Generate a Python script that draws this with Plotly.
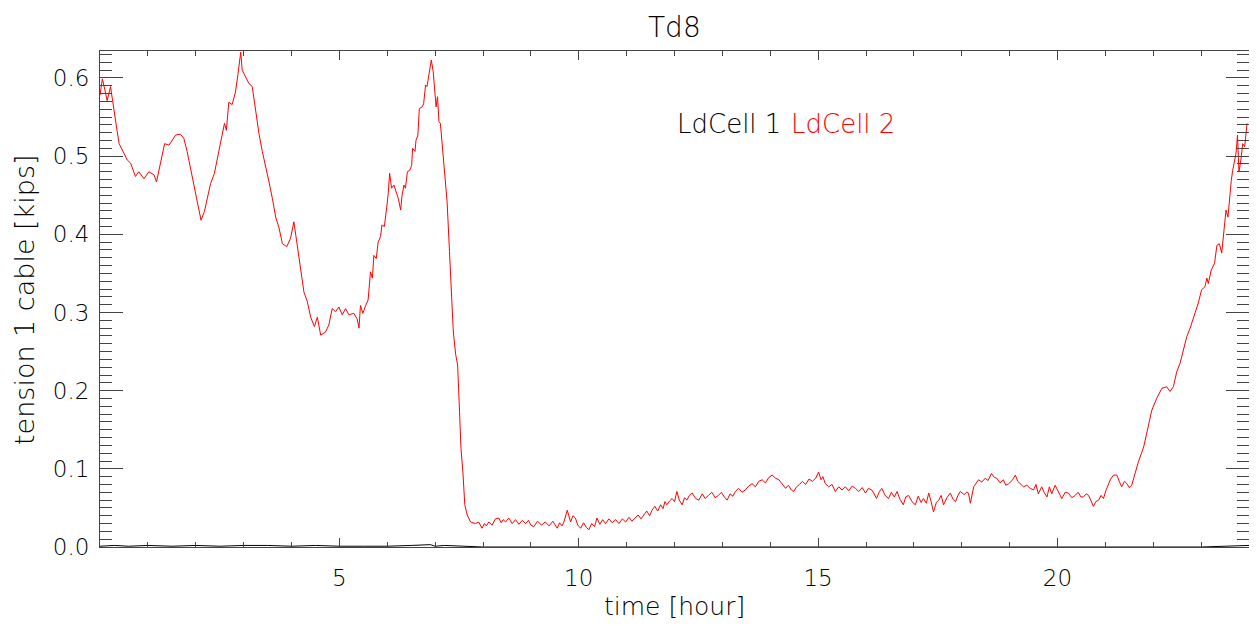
import plotly.graph_objects as go

# ---- data ----
t_ld2 = [0.00, 0.05, 0.10, 0.13, 0.15, 0.22, 0.29, 0.36, 0.40, 0.50, 0.57, 0.64, 0.74, 0.81, 0.92,
         1.02, 1.13, 1.18, 1.27, 1.35, 1.44, 1.51, 1.58, 1.68, 1.75, 1.82, 1.89, 1.96,
         2.03, 2.11, 2.18, 2.24, 2.31, 2.39, 2.46, 2.53, 2.60, 2.64, 2.69, 2.76, 2.83, 2.88, 2.94, 2.97,
         3.04, 3.11, 3.18, 3.25, 3.32, 3.39, 3.46, 3.53, 3.60, 3.67, 3.74, 3.81, 3.90, 3.98,
         4.05, 4.12, 4.19, 4.26, 4.33, 4.40, 4.48, 4.54, 4.61, 4.71, 4.78, 4.85, 4.92, 4.99,
         5.06, 5.13, 5.20, 5.30, 5.37, 5.41, 5.44, 5.49, 5.55, 5.60, 5.65, 5.69, 5.72, 5.77, 5.81, 5.86, 5.89, 5.94, 5.99,
         6.02, 6.05, 6.09, 6.14, 6.19, 6.23, 6.28, 6.31, 6.35, 6.38, 6.42, 6.47, 6.51, 6.53, 6.58, 6.60, 6.64, 6.67,
         6.73, 6.76, 6.80, 6.83, 6.87, 6.90, 6.92, 6.96, 6.99,
         7.02, 7.05, 7.08, 7.11, 7.18, 7.25, 7.30, 7.33, 7.38, 7.43, 7.47, 7.51, 7.54, 7.58, 7.62, 7.67, 7.74, 7.84, 7.91,
         7.98, 8.03, 8.07, 8.12, 8.19, 8.26, 8.33, 8.38, 8.42, 8.47, 8.54, 8.61, 8.68, 8.75, 8.82, 8.89, 8.95, 9.00,
         9.06, 9.14, 9.22, 9.30, 9.38, 9.46, 9.55, 9.60, 9.65, 9.69, 9.76, 9.80, 9.83, 9.88, 9.93, 9.98,
         10.04, 10.10, 10.16, 10.21, 10.27, 10.33, 10.38, 10.44, 10.50, 10.56, 10.63, 10.70, 10.77, 10.84, 10.91, 10.98,
         11.05, 11.11, 11.18, 11.24, 11.30, 11.36, 11.42, 11.48, 11.53, 11.59, 11.65, 11.71, 11.76, 11.80, 11.84, 11.90, 11.95,
         12.00, 12.05, 12.10, 12.16, 12.21, 12.26, 12.31, 12.37, 12.44, 12.51, 12.58, 12.64, 12.71, 12.78, 12.85, 12.92, 12.98,
         13.04, 13.10, 13.16, 13.22, 13.27, 13.34, 13.41, 13.48, 13.55, 13.62, 13.69, 13.76, 13.83, 13.90, 13.97,
         14.04, 14.11, 14.18, 14.25, 14.32, 14.38, 14.44, 14.49, 14.55, 14.61, 14.67, 14.74, 14.81, 14.88, 14.95,
         15.01, 15.06, 15.10, 15.15, 15.22, 15.29, 15.36, 15.43, 15.50, 15.57, 15.64, 15.71, 15.78, 15.85, 15.92, 15.99,
         16.05, 16.12, 16.17, 16.22, 16.28, 16.33, 16.40, 16.47, 16.53, 16.59, 16.65, 16.71, 16.78, 16.83, 16.89, 16.96,
         17.03, 17.09, 17.15, 17.20, 17.26, 17.31, 17.36, 17.41, 17.47, 17.52, 17.57, 17.62, 17.69, 17.76, 17.82, 17.87, 17.92, 17.97,
         18.05, 18.10, 18.14, 18.18, 18.25, 18.30, 18.35, 18.42, 18.49, 18.55, 18.62, 18.68, 18.73, 18.80, 18.87, 18.92, 18.98,
         19.05, 19.12, 19.17, 19.22, 19.29, 19.36, 19.43, 19.50, 19.55, 19.60, 19.67, 19.72, 19.78, 19.83, 19.88, 19.95,
         20.02, 20.09, 20.16, 20.23, 20.30, 20.37, 20.43, 20.49, 20.54, 20.60, 20.65, 20.70, 20.75, 20.80, 20.86, 20.91, 20.96,
         21.01, 21.06, 21.11, 21.17, 21.24, 21.29, 21.34, 21.40, 21.45, 21.50, 21.55, 21.62, 21.69,
         21.80, 21.90, 21.97, 22.07, 22.18, 22.28, 22.35, 22.42, 22.49, 22.56, 22.63, 22.70, 22.77, 22.87, 22.94,
         23.01, 23.08, 23.12, 23.15, 23.21, 23.28, 23.33, 23.38, 23.43, 23.47, 23.52, 23.56, 23.59, 23.63, 23.66,
         23.70, 23.73, 23.76, 23.79, 23.83, 23.87, 23.91, 23.93, 23.96]
v_ld2 = [0.578, 0.599, 0.585, 0.578, 0.571, 0.589, 0.557, 0.531, 0.516, 0.503, 0.495, 0.491, 0.474, 0.480, 0.471,
         0.480, 0.476, 0.467, 0.495, 0.516, 0.514, 0.520, 0.527, 0.528, 0.523, 0.506, 0.484, 0.463,
         0.440, 0.418, 0.429, 0.446, 0.465, 0.478, 0.501, 0.520, 0.542, 0.533, 0.569, 0.566, 0.582, 0.604, 0.633, 0.610,
         0.601, 0.593, 0.589, 0.557, 0.529, 0.506, 0.488, 0.467, 0.446, 0.422, 0.408, 0.388, 0.384, 0.395,
         0.416, 0.386, 0.352, 0.326, 0.314, 0.294, 0.282, 0.294, 0.271, 0.275, 0.284, 0.305, 0.301, 0.307,
         0.297, 0.305, 0.297, 0.299, 0.292, 0.280, 0.309, 0.299, 0.309, 0.316, 0.352, 0.344, 0.373, 0.369, 0.390, 0.397, 0.412, 0.410, 0.435,
         0.452, 0.478, 0.459, 0.463, 0.452, 0.446, 0.431, 0.450, 0.463, 0.459, 0.480, 0.482, 0.488, 0.510, 0.506, 0.520, 0.527, 0.561,
         0.563, 0.567, 0.591, 0.589, 0.604, 0.616, 0.623, 0.608, 0.578,
         0.563, 0.576, 0.544, 0.542, 0.493, 0.442, 0.378, 0.344, 0.275, 0.246, 0.233, 0.173, 0.126, 0.096, 0.054, 0.041, 0.032, 0.030, 0.032,
         0.024, 0.030, 0.027, 0.032, 0.028, 0.036, 0.037, 0.031, 0.035, 0.032, 0.037, 0.030, 0.035, 0.029, 0.034, 0.030, 0.034, 0.028,
         0.026, 0.033, 0.028, 0.032, 0.027, 0.033, 0.024, 0.031, 0.027, 0.032, 0.047, 0.036, 0.032, 0.040, 0.037, 0.028,
         0.024, 0.031, 0.025, 0.022, 0.030, 0.026, 0.037, 0.029, 0.035, 0.030, 0.036, 0.031, 0.035, 0.030, 0.036, 0.032,
         0.038, 0.033, 0.037, 0.041, 0.036, 0.041, 0.046, 0.040, 0.047, 0.052, 0.046, 0.054, 0.049, 0.058, 0.054, 0.059, 0.062,
         0.058, 0.071, 0.060, 0.054, 0.063, 0.060, 0.066, 0.069, 0.062, 0.060, 0.068, 0.062, 0.066, 0.070, 0.063, 0.066, 0.070,
         0.064, 0.060, 0.068, 0.065, 0.071, 0.075, 0.070, 0.073, 0.078, 0.081, 0.077, 0.084, 0.086, 0.082, 0.089,
         0.092, 0.088, 0.086, 0.080, 0.075, 0.079, 0.073, 0.071, 0.077, 0.080, 0.084, 0.080, 0.087, 0.084, 0.088,
         0.096, 0.086, 0.090, 0.081, 0.077, 0.080, 0.071, 0.077, 0.073, 0.077, 0.072, 0.078, 0.075, 0.071, 0.076, 0.069,
         0.075, 0.073, 0.068, 0.062, 0.071, 0.075, 0.066, 0.062, 0.070, 0.064, 0.071, 0.061, 0.054, 0.064, 0.066, 0.058,
         0.054, 0.065, 0.057, 0.062, 0.056, 0.069, 0.058, 0.045, 0.057, 0.060, 0.066, 0.054, 0.063, 0.069, 0.061, 0.058, 0.066, 0.071,
         0.067, 0.070, 0.069, 0.056, 0.077, 0.082, 0.086, 0.083, 0.088, 0.085, 0.094, 0.089, 0.088, 0.082, 0.086, 0.079, 0.081,
         0.085, 0.092, 0.084, 0.081, 0.077, 0.079, 0.075, 0.073, 0.080, 0.068, 0.077, 0.070, 0.064, 0.077, 0.068, 0.079,
         0.070, 0.062, 0.070, 0.069, 0.063, 0.066, 0.070, 0.064, 0.064, 0.068, 0.066, 0.060, 0.052, 0.058, 0.060, 0.066, 0.062,
         0.072, 0.081, 0.087, 0.092, 0.092, 0.084, 0.077, 0.084, 0.081, 0.076, 0.079, 0.094, 0.109,
         0.128, 0.154, 0.175, 0.190, 0.203, 0.205, 0.199, 0.205, 0.224, 0.235, 0.252, 0.269, 0.280, 0.299, 0.312,
         0.329, 0.333, 0.344, 0.337, 0.354, 0.363, 0.386, 0.388, 0.376, 0.404, 0.431, 0.422, 0.444, 0.469, 0.482,
         0.497, 0.504, 0.527, 0.480, 0.495, 0.516, 0.512, 0.523, 0.542]

t_ld1 = [0.0, 0.3, 0.6, 1.0, 1.5, 2.0, 2.5, 3.0, 3.5, 4.0, 4.5, 5.0, 5.5, 6.0, 6.5, 6.9, 7.0, 7.2, 7.6, 8.0,
         9.0, 10.0, 11.0, 12.0, 13.0, 14.0, 15.0, 16.0, 17.0, 18.0, 19.0, 20.0, 21.0, 22.0, 23.0, 23.5, 24.0]
v_ld1 = [0.001, 0.002, 0.001, 0.002, 0.001, 0.002, 0.001, 0.002, 0.002, 0.001, 0.002, 0.001, 0.001, 0.001, 0.002, 0.003, 0.001, 0.002, 0.001, 0.000,
         0.000, 0.000, 0.000, 0.000, 0.000, 0.000, 0.000, 0.000, 0.000, 0.000, 0.000, 0.000, 0.000, 0.000, 0.000, 0.001, 0.002]

x_major = [5, 10, 15, 20]
title_text = "Td8"
x_title = "time [hour]"
y_title = "tension 1 cable [kips]"
legend_names = ["LdCell 1", "LdCell 2"]

FONT = "DejaVu Sans"
W = 200  # thin strokes like the reference
TXT = "#000000"
fig = go.Figure()
fig.add_trace(go.Scatter(x=t_ld1, y=v_ld1, mode="lines", line=dict(color="black", width=1),
                         name=legend_names[0], showlegend=False))
fig.add_trace(go.Scatter(x=t_ld2, y=v_ld2, mode="lines", line=dict(color="#ff0000", width=1),
                         name=legend_names[1], showlegend=False))

axcol = "#444444"
# page body adds an 8px offset; plot area targeted at x 100..1249, y 51..547 in the window
PL, PT, PW, PH = 92, 43, 1149, 496
FW, FH = 1249, 618


def px(xw):
    return (xw - 8 - PL) / PW


def py(yw):
    return (PT + PH - (yw - 8)) / PH


fig.update_layout(
    width=FW, height=FH,
    margin=dict(l=PL, r=FW - PL - PW, t=PT, b=FH - PT - PH, autoexpand=False),
    paper_bgcolor="white", plot_bgcolor="white",
    font=dict(family=FONT, size=23, color=TXT, weight=W),
    xaxis=dict(range=[0, 24], tickmode="array", tickvals=x_major, ticktext=[str(v) for v in x_major],
               ticks="inside", ticklen=9, tickwidth=1, tickcolor=axcol,
               showline=True, linecolor=axcol, linewidth=1, mirror="allticks",
               showgrid=False, zeroline=False, ticklabelstandoff=10, automargin=False,
               minor=dict(tickmode="linear", tick0=0, dtick=1, ticks="inside", ticklen=5,
                          tickwidth=1, tickcolor=axcol, showgrid=False)),
    yaxis=dict(range=[0, 0.6345], tickmode="linear", tick0=0, dtick=0.1, tickformat=".1f",
               ticks="inside", ticklen=23, tickwidth=1, tickcolor=axcol,
               showline=True, linecolor=axcol, linewidth=1, mirror="allticks",
               showgrid=False, zeroline=False, ticklabelstandoff=5, automargin=False,
               minor=dict(tickmode="linear", tick0=0, dtick=0.01, ticks="inside", ticklen=12,
                          tickwidth=1, tickcolor=axcol, showgrid=False)),
    annotations=[
        dict(text=title_text, xref="paper", yref="paper", x=0.5, y=py(28),
             xanchor="center", yanchor="middle", showarrow=False, font=dict(size=28, weight=W, color=TXT)),
        dict(text=x_title, xref="paper", yref="paper", x=0.5, y=py(606),
             xanchor="center", yanchor="middle", showarrow=False, font=dict(size=25, weight=W, color=TXT)),
        dict(text=y_title, xref="paper", yref="paper", x=px(24), y=py(300), textangle=-90,
             xanchor="center", yanchor="middle", showarrow=False, font=dict(size=27, weight=W, color=TXT)),
        dict(text=legend_names[0], xref="paper", yref="paper", x=px(675), y=py(124),
             xanchor="left", yanchor="middle", showarrow=False, font=dict(size=26, color=TXT, weight=W)),
        dict(text=legend_names[1], xref="paper", yref="paper", x=px(789), y=py(124),
             xanchor="left", yanchor="middle", showarrow=False, font=dict(size=26, color="#ff0000", weight=W)),
    ],
)
fig.write_html("out.html")
